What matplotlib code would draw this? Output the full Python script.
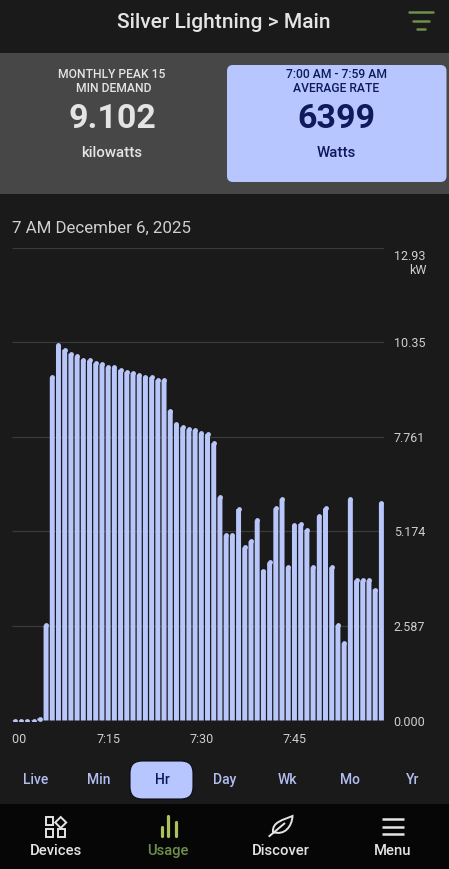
import numpy as np
from matplotlib import pyplot as plt
from matplotlib.patches import FancyBboxPatch, PathPatch, Polygon, Rectangle
from matplotlib.path import Path
from matplotlib.transforms import Bbox

plt.rcParams['font.family'] = ['Roboto', 'DejaVu Sans']

# kW per minute
minutes = np.arange(60)
usage_kw = [0.055, 0.055, 0.055, 0.055, 0.12, 2.67, 9.46, 10.33, 10.21, 10.10,
            10.03, 9.93, 9.92, 9.84, 9.81, 9.73, 9.73, 9.66, 9.60, 9.58,
            9.52, 9.47, 9.46, 9.38, 9.38, 8.54, 8.17, 8.09, 8.03, 8.01,
            7.92, 7.90, 7.65, 6.17, 5.13, 5.13, 5.85, 4.80, 4.97, 5.54,
            4.17, 4.39, 5.87, 6.12, 4.26, 5.41, 5.44, 5.28, 4.26, 5.65,
            5.87, 4.26, 2.67, 2.18, 6.12, 3.90, 3.90, 3.90, 3.65, 6.02]
y_ticks = [0, 2.587, 5.174, 7.761, 10.35, 12.93]
y_labels = ['0.000', '2.587', '5.174', '7.761', '10.35', '']
x_ticks = [0, 15, 30, 45]
x_labels = ['7:00', '7:15', '7:30', '7:45']
ranges = ['Live', 'Min', 'Hr', 'Day', 'Wk', 'Mo', 'Yr']
range_x = [36, 99, 162, 225, 287, 350, 413]
nav_labels = ['Devices', 'Usage', 'Discover', 'Menu']
nav_x = [56, 168, 280.5, 392.5]

BG = '#1a1a1a'
BLUE = '#b8c6ff'
BAR = '#b9c6fa'
NAVY = '#0e1a5c'
LIGHT = '#e4e4e4'
GREEN = '#6f8f4c'

W, H = 449, 869
fig = plt.figure(figsize=(W / 100, H / 100), dpi=100, facecolor=BG)

# page furniture, in pixel coordinates
ui = fig.add_axes([0, 0, 1, 1])
ui.set_xlim(0, W)
ui.set_ylim(H, 0)
ui.axis('off')

ui.add_patch(Rectangle((0, 53), W, 141, fc='#474747', ec='none'))
ui.add_patch(Rectangle((0, 804), W, 65, fc='#060606', ec='none'))
ui.add_patch(FancyBboxPatch((231, 69), 211.5, 109, boxstyle='round,pad=4,rounding_size=6',
                            fc=BLUE, ec='none'))
ui.add_patch(FancyBboxPatch((142, 773), 39, 14, boxstyle='round,pad=12,rounding_size=12',
                            fc=BLUE, ec='#0a0a14', lw=0.8))

ui.text(224, 22, 'Silver Lightning > Main', color=LIGHT, fontsize=15.1, fontweight='medium',
        ha='center', va='center')
for x0, x1, y in [(409, 432.5, 12.3), (413, 428.5, 20.7), (417, 425, 29)]:
    ui.plot([x0, x1], [y, y], color=GREEN, lw=1.8, solid_capstyle='round')

ui.text(112, 74, 'MONTHLY PEAK 15', color=LIGHT, fontsize=8.7, fontweight='medium', ha='center', va='center')
ui.text(113.5, 89, 'MIN DEMAND', color=LIGHT, fontsize=8.7, fontweight='medium', ha='center', va='center')
ui.text(112.5, 119.5, '9.102', color=LIGHT, fontsize=24.5, fontweight='bold', ha='center', va='center')
ui.text(112, 153, 'kilowatts', color=LIGHT, fontsize=10.8, fontweight='medium', ha='center', va='center')
ui.text(336.5, 74, '7:00 AM - 7:59 AM', color=NAVY, fontsize=8.7, fontweight='medium', ha='center', va='center')
ui.text(336.5, 89, 'AVERAGE RATE', color=NAVY, fontsize=8.7, fontweight='medium', ha='center', va='center')
ui.text(336.5, 119.5, '6399', color=NAVY, fontsize=24.5, fontweight='bold', ha='center', va='center')
ui.text(336.5, 153, 'Watts', color=NAVY, fontsize=10.8, fontweight='medium', ha='center', va='center')

ui.text(12, 228, '7 AM December 6, 2025', color='#cfcfcf', fontsize=12.2, ha='left', va='center')

for name, x in zip(ranges, range_x):
    ui.text(x, 780, name, color=NAVY if name == 'Hr' else '#b3bdf0', fontsize=10,
            fontweight='medium', ha='center', va='center', zorder=5)

for name, x in zip(nav_labels, nav_x):
    ui.text(x, 851, name, color=GREEN if name == 'Usage' else LIGHT, fontsize=10.6,
            fontweight='medium', ha='center', va='center')

# devices icon
for x, y in [(45.7, 817), (45.7, 829), (57.5, 829)]:
    ui.add_patch(Rectangle((x, y), 7.5, 7.5, fc='none', ec=LIGHT, lw=1.4))
ui.add_patch(Polygon([(60.7, 817), (66.2, 822.5), (60.7, 828), (55.2, 822.5)],
                     closed=True, fc='none', ec=LIGHT, lw=1.4))
# usage icon
for x, y in [(161.6, 827), (168.4, 816), (175.6, 822)]:
    ui.plot([x, x], [y, 836], color='#a9c25d', lw=2.3, solid_capstyle='round')
# discover icon
leaf = Path([(273, 832), (272, 822), (283, 820), (292.5, 816), (292, 826), (285, 836), (273, 832),
             (268.7, 836.7), (285, 823)],
            [Path.MOVETO, Path.CURVE4, Path.CURVE4, Path.CURVE4, Path.CURVE4, Path.CURVE4, Path.CURVE4,
             Path.MOVETO, Path.LINETO])
ui.add_patch(PathPatch(leaf, fc='none', ec=LIGHT, lw=1.4))
# menu icon
for y in [819.3, 826.7, 833.7]:
    ui.plot([381.7, 404], [y, y], color=LIGHT, lw=1.8, solid_capstyle='butt')

# the chart itself, left edge 12 px to 384 px, top 248 px to 720.5 px
ax = fig.add_axes([12 / W, 1 - 720.5 / H, 372 / W, 472.5 / H])
ax.patch.set_alpha(0)
ax.set_xlim(-0.483, 59.42)
ax.set_ylim(0, 12.93)
for s in ax.spines.values():
    s.set_visible(False)

cap = 2.4 / 36.53
tops = np.array(usage_kw) - cap
ax.hlines(y_ticks[1:], -0.483, 59.42, color='#3a3a3a', lw=0.9, zorder=1)
bars = ax.bar(minutes, tops, width=0.8, color=BAR, zorder=2)
for b in bars:
    b.set_snap(False)
# round tops, as wide as the bars
dots = ax.scatter(minutes, tops, s=12, color=BAR, linewidths=0, zorder=2)
dots.set_snap(False)

ax.yaxis.tick_right()
ax.set_yticks(y_ticks, y_labels)
ax.set_xticks(x_ticks, x_labels)
ax.tick_params(axis='y', length=0, pad=7, labelsize=9, labelcolor='#cfcfcf')
ax.tick_params(axis='x', length=0, pad=9, labelsize=9, labelcolor='#cfcfcf')
# first time label runs off the left of the scroll area
clip = Bbox.from_extents(11, 0, W, H)
ax.get_xticklabels()[0].set_clip_box(clip)
ax.get_xticklabels()[0].set_clip_on(True)

ui.text(394, 256, '12.93', color='#cfcfcf', fontsize=9, ha='left', va='center')
ui.text(409, 271, 'kW', color='#cfcfcf', fontsize=9, ha='left', va='center')

fig.savefig('out.png', dpi=100, facecolor=BG)
